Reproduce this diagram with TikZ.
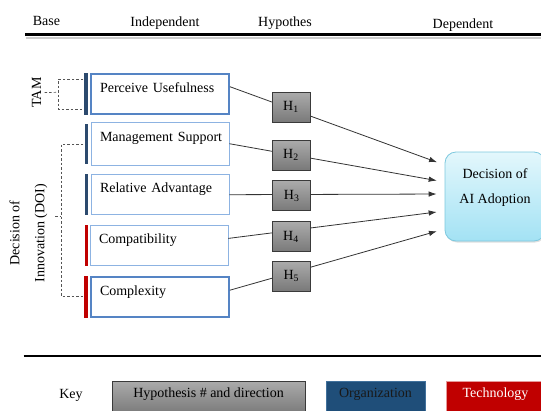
\documentclass[tikz,border=0pt]{standalone}
\usepackage{fontspec}
\setmainfont{Liberation Serif}
\usepackage{tikz}
\usetikzlibrary{arrows.meta, shadows}
\definecolor{orgblue}{HTML}{1F4E79}
\definecolor{orgframe}{HTML}{41719C}
\definecolor{orgbar}{HTML}{2C4A6E}
\definecolor{techred}{HTML}{C00000}
\definecolor{thinframe}{HTML}{8DB3E2}
\definecolor{thickframe}{HTML}{5584C4}
\definecolor{hyptop}{HTML}{ABABAB}
\definecolor{hypbottom}{HTML}{797979}
\definecolor{hypframe}{HTML}{3A3A3A}
\definecolor{dectop}{HTML}{E3F7FC}
\definecolor{decbottom}{HTML}{A3E2F4}
\definecolor{decframe}{HTML}{7DC8DE}
\definecolor{bracketgray}{HTML}{555555}
\tikzstyle{headlabel} = [text height=10pt, text depth=3pt, inner sep=0pt]
\tikzstyle{factornode} = [rectangle, draw=thinframe, line width=0.7pt, fill=white, minimum width=138pt, minimum height=40pt, text width=125pt, inner xsep=6.5pt, inner ysep=4pt, text height=14pt, text depth=18pt, align=left]
\tikzstyle{mainfactor} = [factornode, draw=thickframe, line width=1.8pt]
\tikzstyle{hypnode} = [rectangle, draw=hypframe, line width=0.8pt, top color=hyptop, bottom color=hypbottom, minimum width=38pt, minimum height=30pt, inner sep=0pt]
\tikzstyle{decnode} = [rectangle, rounded corners=11pt, draw=decframe, line width=0.8pt, top color=dectop, bottom color=decbottom, minimum width=100pt, minimum height=89pt, align=center, text depth=20pt, font=\fontsize{14}{25}\selectfont, drop shadow={opacity=0.25, shadow xshift=1pt, shadow yshift=-1.5pt}]
\tikzstyle{hyparrow} = [draw=black!80, line width=0.8pt, -{Latex[length=8pt, width=5.5pt]}, shorten >=8pt]
\tikzstyle{bracket} = [draw=bracketgray, line width=0.7pt, dash pattern=on 2.5pt off 2pt]
\tikzstyle{keybox} = [rectangle, minimum width=99pt, minimum height=33pt, inner ysep=2.5pt, text height=14pt, text depth=14pt]

\begin{document}
\begin{tikzpicture}[x=1pt, y=-1pt, font=\fontsize{14}{17}\selectfont]
    \clip (0,0) rectangle (541,410);

    % column heads
    \node (base) [headlabel] at (46.5,22) {Base};
    \node (indep) [headlabel] at (165,22.5) {Independent};
    \node (hypo) [headlabel] at (285,22.5) {Hypothes};
    \node (dep) [headlabel] at (463,25) {Dependent};
    \draw [black!20, line width=2pt] (26,37.5) -- (541,37.5);
    \draw [line width=2.8pt] (25,34.5) -- (541,34.5);

    % theories
    \node (tam) [rotate=90] at (36.5,92.5) {TAM};
    \node (doi) [rotate=90, align=center, font=\fontsize{14}{25}\selectfont] at (28.5,233) {Decision of\\Innovation (DOI)};

    % independent variables
    \node (pu) [mainfactor] at (160,94) {\hspace*{2.5pt}Perceive Usefulness};
    \node (ms) [factornode, minimum height=42.5pt] at (160,143.7) {\hspace*{2.5pt}Management Support};
    \node (ra) [factornode] at (160,194.7) {\hspace*{2.5pt}Relative Advantage};
    \node (compat) [factornode] at (159,245.4) {\hspace*{2.5pt}Compatibility};
    \node (cplx) [mainfactor] at (160,297.2) {\hspace*{2.5pt}Complexity};

    \fill [orgbar] ([xshift=-6.5pt]pu.north west) rectangle ([xshift=-2pt]pu.south west);
    \fill [orgbar] ([xshift=-6pt, yshift=-1.5pt]ms.north west) rectangle ([xshift=-2.5pt, yshift=1pt]ms.south west);
    \fill [orgbar] ([xshift=-6pt]ra.north west) rectangle ([xshift=-2.5pt]ra.south west);
    \fill [techred] ([xshift=-5pt]compat.north west) rectangle ([xshift=-1.5pt]compat.south west);
    \fill [techred] ([xshift=-6.5pt]cplx.north west) rectangle ([xshift=-2pt]cplx.south west);

    \draw [bracket] (tam.south) -- (58.3,92.3);
    \draw [bracket] (83.3,79) -| (58.3,109.3) -- (83.3,109.3);
    \draw [bracket] (83.3,144.3) -| (61,296) -- (83.3,296);
    \draw [bracket] (55,216.7) -- (61,216.7);

    % dependent variable
    \node (dec) [decnode] at (495,196.5) {Decision of\\AI Adoption};

    \draw [hyparrow] ([yshift=7.3pt]pu.east) -- ([yshift=31.5pt]dec.west);
    \draw [hyparrow] (ms.east) -- ([yshift=14.5pt]dec.west);
    \draw [hyparrow] (ra.east) -- ([yshift=2.5pt]dec.west);
    \draw [hyparrow] ([yshift=7pt]compat.east) -- ([yshift=-14.5pt]dec.west);
    \draw [hyparrow] ([yshift=7pt]cplx.east) -- ([yshift=-32.5pt]dec.west);

    % hypotheses
    \node (h1) [hypnode] at (291,107.3) {H\textsubscript{1}};
    \node (h2) [hypnode] at (291,155) {H\textsubscript{2}};
    \node (h3) [hypnode] at (291.7,195.7) {H\textsubscript{3}};
    \node (h4) [hypnode] at (291,236.7) {H\textsubscript{4}};
    \node (h5) [hypnode] at (291.3,276) {H\textsubscript{5}};

    % key
    \draw [line width=2pt] (23.5,355.5) -- (541,355.5);
    \node (key) [headlabel] at (71,395) {Key};
    \node (keyhyp) [keybox, draw=hypframe, line width=0.8pt, top color=hyptop, bottom color=hypbottom, minimum width=193pt] at (208.5,397.5) {Hypothesis \# and direction};
    \node (keyorg) [keybox, fill=orgblue, draw=orgframe, text=black!90] at (375.5,397.5) {Organization};
    \node (keytech) [keybox, fill=techred, draw=techred!40, text=white] at (495.5,397.5) {Technology};
\end{tikzpicture}
\end{document}
